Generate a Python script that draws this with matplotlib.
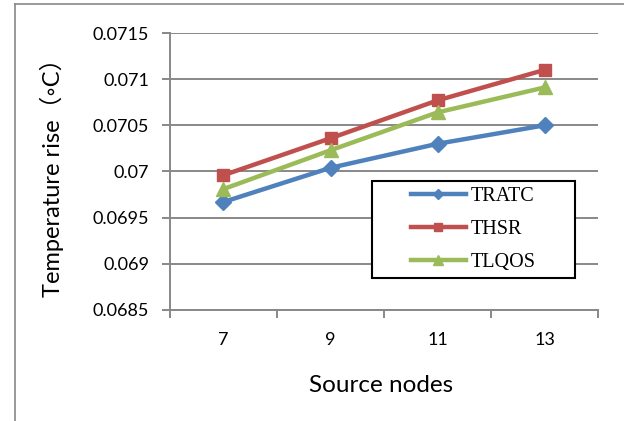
import numpy as np
import matplotlib
matplotlib.use('Agg')
import matplotlib.pyplot as plt
from matplotlib.patches import Rectangle
from matplotlib.lines import Line2D

# data
source_nodes = ['7', '9', '11', '13']
tratc = [0.06967, 0.07004, 0.07030, 0.07050]
thsr  = [0.06996, 0.07036, 0.07077, 0.07110]
tlqos = [0.06981, 0.07023, 0.07064, 0.07091]
y_ticks = [0.0685, 0.069, 0.0695, 0.07, 0.0705, 0.071, 0.0715]

W, H = 624, 421
fig = plt.figure(figsize=(W / 100, H / 100), dpi=100)
fig.patch.set_facecolor('white')

# chart-area frame (only top and left visible)
fig.add_artist(Line2D([15 / W, 15 / W], [0, 1 - 4 / H], color='#888888', lw=1.2,
                      transform=fig.transFigure))
fig.add_artist(Line2D([15 / W, 1], [1 - 4 / H, 1 - 4 / H], color='#888888', lw=1.2,
                      transform=fig.transFigure))

left, right, top, bottom = 170, 598, 33, 310
ax = fig.add_axes([left / W, 1 - bottom / H, (right - left) / W, (bottom - top) / H])

x = np.arange(len(source_nodes))
series = [
    (tratc, 'TRATC', '#4F81BD', 'D', 8),
    (thsr,  'THSR',  '#C0504D', 's', 9),
    (tlqos, 'TLQOS', '#9BBB59', '^', 10),
]
for vals, name, col, mk, ms in series:
    ax.plot(x, vals, color=col, lw=3.2, marker=mk, markersize=ms, label=name,
            markeredgecolor=col, zorder=3)

ax.set_xlim(-0.5, len(source_nodes) - 0.5)
ax.set_ylim(y_ticks[0], y_ticks[-1])
ax.set_yticks(y_ticks)
ax.set_yticklabels(['0.0685', '0.069', '0.0695', '0.07', '0.0705', '0.071', '0.0715'])
ax.set_xticks(x)
ax.set_xticklabels(source_nodes)
ax.set_xticks(np.arange(-0.5, len(source_nodes)), minor=True)

ax.yaxis.grid(True, color='#888888', lw=1.4)
ax.set_axisbelow(True)
for s in ['top', 'right']:
    ax.spines[s].set_visible(False)
for s in ['left', 'bottom']:
    ax.spines[s].set_color('#888888')
    ax.spines[s].set_linewidth(1.4)

ax.tick_params(axis='y', length=6, width=1.4, color='#888888', pad=9,
               labelsize=13, labelfontfamily='Lato')
ax.tick_params(axis='x', which='major', length=0, pad=16, labelsize=13,
               labelfontfamily='Lato')
ax.tick_params(axis='x', which='minor', length=6, width=1.4, color='#888888')

fig.text(52 / W, 1 - 172 / H, 'Temperature rise（◦C）', rotation=90, ha='center',
         va='center', fontsize=17, family=['Lato', 'Noto Sans CJK SC', 'DejaVu Sans'])
fig.text(381 / W, 1 - 385 / H, 'Source nodes', ha='center', va='center',
         fontsize=17.5, family='Lato')

# legend box
bx0, by0, bx1, by1 = 372, 181, 575, 278
fig.add_artist(Rectangle((bx0 / W, 1 - by1 / H), (bx1 - bx0) / W, (by1 - by0) / H,
                         transform=fig.transFigure, facecolor='white',
                         edgecolor='black', lw=1.5, zorder=5))
handles, labels = ax.get_legend_handles_labels()
leg = fig.legend(handles, labels, loc='center',
                 bbox_to_anchor=((bx0 + bx1) / 2 / W, 1 - (by0 + by1) / 2 / H),
                 frameon=False, prop={'family': 'Liberation Serif', 'size': 14.5},
                 handlelength=2.7, handletextpad=0.25, labelspacing=0.68,
                 markerscale=0.7)
leg.set_zorder(6)

fig.savefig('out.png', dpi=100)
